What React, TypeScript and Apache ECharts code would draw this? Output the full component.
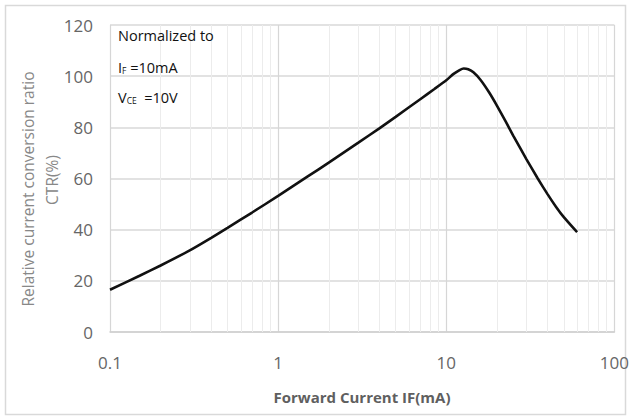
import React, { useEffect, useRef } from "react";
import * as echarts from "echarts";

const currentMA = [0.1, 0.15, 0.2, 0.3, 0.4, 0.5, 0.7, 1, 1.5, 2, 3, 4, 5, 7, 8.5, 10, 11, 12, 12.7, 13.5, 14.5, 16, 18, 20, 22.5, 25, 30, 35, 40, 45, 50, 60];
const ctrRatio = [16.5, 22, 26, 32, 36.8, 40.7, 46.7, 53.2, 60.8, 66.2, 74, 79.6, 84.1, 91, 95, 98.4, 100.8, 102.4, 103, 102.7, 101.5, 98.5, 93.6, 88.5, 82.4, 76.8, 67.5, 60, 53.9, 48.9, 44.9, 39];
const xDecades = [0.1, 1, 10, 100];
const minorSteps = [2, 3, 4, 5, 6, 7, 8, 9];
const yTicks = [0, 20, 40, 60, 80, 100, 120];

export default function App() {
  const ref = useRef<HTMLDivElement>(null);
  useEffect(() => {
    if (!ref.current) return;
    const chart = echarts.init(ref.current, undefined, { renderer: "svg" });
    const minorLines: { xAxis: number }[] = [];
    xDecades.slice(0, 3).forEach((d) => minorSteps.forEach((k) => minorLines.push({ xAxis: +(d * k).toPrecision(3) })));
    const labelFont = "'Open Sans', 'Segoe UI', sans-serif";
    const sub = (size: number) => ({ fill: "#111111", fontSize: size, fontFamily: "'Open Sans', sans-serif" });
    chart.setOption({
      animation: false,
      backgroundColor: "#ffffff",
      grid: { left: 110, right: 17, top: 25, bottom: 86, containLabel: false },
      xAxis: {
        type: "log",
        logBase: 10,
        min: xDecades[0],
        max: xDecades[xDecades.length - 1],
        axisLine: { show: true, lineStyle: { color: "#cfcfcf", width: 1.5 } },
        axisTick: { show: false },
        axisLabel: {
          color: "#666666",
          fontSize: 17,
          fontFamily: labelFont,
          margin: 22,
          formatter: (v: number) => String(v),
        },
        splitLine: { show: true, lineStyle: { color: "#d6d6d6", width: 1.2 } },
      },
      yAxis: {
        type: "value",
        min: yTicks[0],
        max: yTicks[yTicks.length - 1],
        interval: 20,
        axisLine: { show: false },
        axisTick: { show: false },
        axisLabel: { color: "#666666", fontSize: 17, fontFamily: labelFont, margin: 17 },
        splitLine: { show: true, lineStyle: { color: "#d9d9d9", width: 1.5 } },
      },
      series: [
        {
          type: "line",
          data: [],
          z: 1,
          silent: true,
          markLine: {
            z: 1,
            silent: true,
            symbol: ["none", "none"],
            label: { show: false },
            lineStyle: { color: "#ececec", width: 1, type: "solid" },
            data: minorLines,
          },
        },
        {
          type: "line",
          z: 10,
          data: currentMA.map((x, i) => [x, ctrRatio[i]]),
          showSymbol: false,
          smooth: 0.15,
          lineStyle: { color: "#111111", width: 2.6 },
        },
      ],
      graphic: [
        {
          type: "rect",
          shape: { x: 5.5, y: 5.5, width: 620, height: 409 },
          style: { fill: "none", stroke: "#d9d9d9", lineWidth: 1.5 },
          z: 0,
        },
        {
          type: "text",
          z: 100,
          x: 28,
          y: 189,
          rotation: Math.PI / 2,
          style: {
            text: "Relative current conversion ratio",
            fill: "#888888",
            font: "15.5px 'Open Sans', sans-serif",
            textAlign: "center",
            textVerticalAlign: "middle",
          },
        },
        {
          type: "text",
          z: 100,
          x: 52,
          y: 180,
          rotation: Math.PI / 2,
          style: {
            text: "CTR(%)",
            fill: "#888888",
            font: "15.5px 'Open Sans', sans-serif",
            textAlign: "center",
            textVerticalAlign: "middle",
          },
        },
        {
          type: "text",
          z: 100,
          x: 362,
          y: 397,
          style: {
            text: "Forward Current IF(mA)",
            fill: "#5f5f5f",
            font: "bold 15px 'Open Sans', sans-serif",
            textAlign: "center",
            textVerticalAlign: "middle",
          },
        },
        {
          type: "text",
          z: 100,
          x: 118,
          y: 35,
          style: {
            text: "Normalized to",
            fill: "#111111",
            font: "14.5px 'Open Sans', sans-serif",
            textAlign: "left",
            textVerticalAlign: "middle",
          },
        },
        {
          type: "text",
          z: 100,
          x: 118,
          y: 65,
          style: {
            text: "{n|I}{s|F}{n| =10mA}",
            textAlign: "left",
            textVerticalAlign: "middle",
            rich: {
              n: { ...sub(14.5), lineHeight: 20, verticalAlign: "bottom" },
              s: { ...sub(8.5), lineHeight: 16, verticalAlign: "bottom" },
            },
          },
        },
        {
          type: "text",
          z: 100,
          x: 118,
          y: 95,
          style: {
            text: "{n|V}{s|CE}{n|  =10V}",
            textAlign: "left",
            textVerticalAlign: "middle",
            rich: {
              n: { ...sub(14.5), lineHeight: 20, verticalAlign: "bottom" },
              s: { ...sub(8.5), lineHeight: 16, verticalAlign: "bottom" },
            },
          },
        },
      ],
    });
    return () => chart.dispose();
  }, []);
  return <div ref={ref} style={{ position: "absolute", left: 0, top: 0, width: 632, height: 418 }} />;
}
